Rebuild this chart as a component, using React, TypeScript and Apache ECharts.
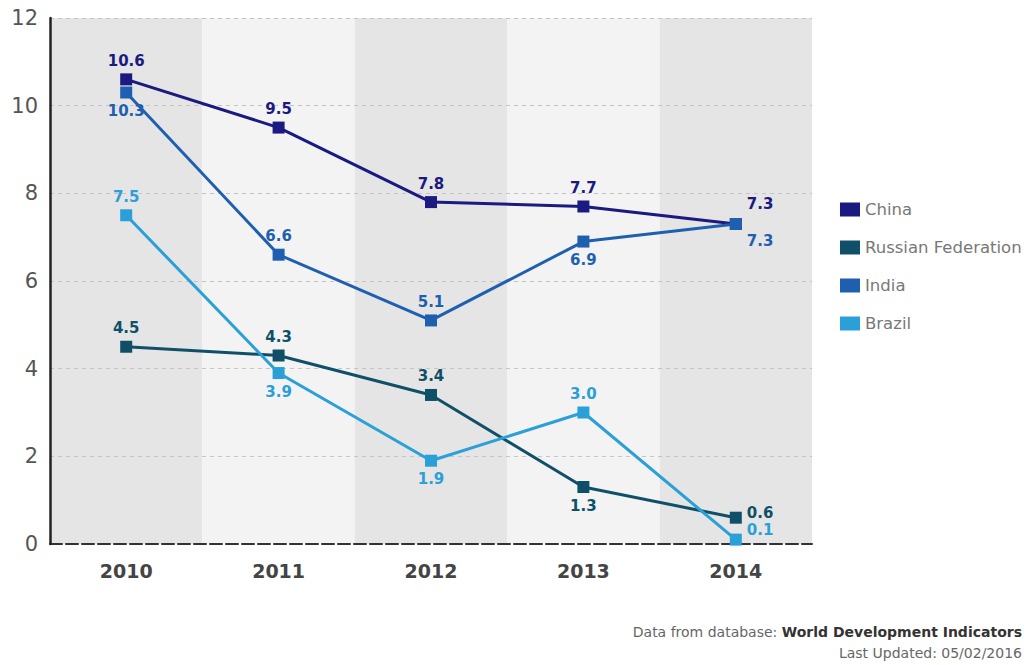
import React, { useEffect, useRef } from "react";
import * as echarts from "echarts";

const years = ["2010", "2011", "2012", "2013", "2014"];
const china = [10.6, 9.5, 7.8, 7.7, 7.3];
const russia = [4.5, 4.3, 3.4, 1.3, 0.6];
const india = [10.3, 6.6, 5.1, 6.9, 7.3];
const brazil = [7.5, 3.9, 1.9, 3.0, 0.1];

const chinaPos = ["top", "top", "top", "top", "right"];
const russiaPos = ["top", "top", "top", "bottom", "right"];
const indiaPos = ["bottom", "top", "top", "bottom", "right"];
const brazilPos = ["top", "bottom", "bottom", "top", "right"];

const chinaOff = [[0, 0], [0, 0], [0, 0], [0, 0], [0, -20]];
const russiaOff = [[0, 0], [0, 0], [0, 0], [0, 0], [0, -5]];
const indiaOff = [[0, 0], [0, 0], [0, 0], [0, 0], [0, 17]];
const brazilOff = [[0, 0], [0, 0], [0, 0], [0, 0], [0, -10]];

function mk(name: string, values: number[], pos: string[], off: number[][], color: string) {
  return {
    name,
    type: "line",
    z: 5,
    data: values.map((v, i) => ({
      value: v,
      label: { position: pos[i], offset: off[i] },
    })),
    symbol: "rect",
    symbolSize: 12,
    lineStyle: { color, width: 3 },
    itemStyle: { color },
    label: {
      show: true,
      color,
      fontSize: 15,
      fontWeight: "bold",
      fontFamily: "DejaVu Sans",
      formatter: (p: any) => Number(p.value).toFixed(1),
    },
  };
}

export default function App() {
  const ref = useRef<HTMLDivElement>(null);
  useEffect(() => {
    const chart = echarts.init(ref.current!, null, { renderer: "svg" });
    chart.setOption({
      animation: false,
      backgroundColor: "#ffffff",
      grid: { left: 50, right: 224, top: 18, bottom: 121 },
      legend: {
        orient: "vertical",
        left: 835,
        top: 196,
        itemWidth: 20,
        itemHeight: 14,
        itemGap: 21,
        icon: "rect",
        textStyle: { color: "#777", fontSize: 16.5, fontFamily: "DejaVu Sans" },
        data: ["China", "Russian Federation", "India", "Brazil"],
      },
      xAxis: {
        type: "category",
        data: years,
        boundaryGap: true,
        z: 0,
        axisLine: { show: true, lineStyle: { color: "#333", width: 2, type: [12, 4] } },
        axisTick: { show: false },
        axisLabel: { color: "#444", fontSize: 19, fontWeight: "bold", fontFamily: "DejaVu Sans", margin: 17 },
        splitArea: { show: true, areaStyle: { color: ["#e5e5e5", "#f3f3f3"] } },
        splitLine: { show: false },
      },
      yAxis: {
        type: "value",
        min: 0,
        max: 12,
        interval: 2,
        z: 2,
        axisLine: { show: true, lineStyle: { color: "#222", width: 2.5 } },
        axisTick: { show: false },
        axisLabel: { color: "#555", fontSize: 21, fontFamily: "DejaVu Sans", margin: 12 },
        splitLine: { show: true, showMinLine: false, lineStyle: { color: "#c4c4c4", type: [4, 4], width: 1 } },
      },
      series: [
        mk("China", china, chinaPos, chinaOff, "#1a1a80"),
        mk("Russian Federation", russia, russiaPos, russiaOff, "#0f5068"),
        mk("India", india, indiaPos, indiaOff, "#1f5fb0"),
        mk("Brazil", brazil, brazilPos, brazilOff, "#2a9fd8"),
      ],
      graphic: [
        {
          type: "text",
          right: 14,
          top: 625,
          style: {
            text: "Data from database: {b|World Development Indicators}",
            fill: "#666",
            fontSize: 14,
            fontFamily: "DejaVu Sans",
            rich: { b: { fontWeight: "bold", fill: "#333", fontSize: 14, fontFamily: "DejaVu Sans" } },
          },
        },
        {
          type: "text",
          right: 14,
          top: 646,
          style: { text: "Last Updated: 05/02/2016", fill: "#666", fontSize: 14, fontFamily: "DejaVu Sans" },
        },
      ],
    });
    return () => chart.dispose();
  }, []);
  return <div ref={ref} style={{ position: "fixed", left: 0, top: 0, width: 1036, height: 665 }} />;
}
